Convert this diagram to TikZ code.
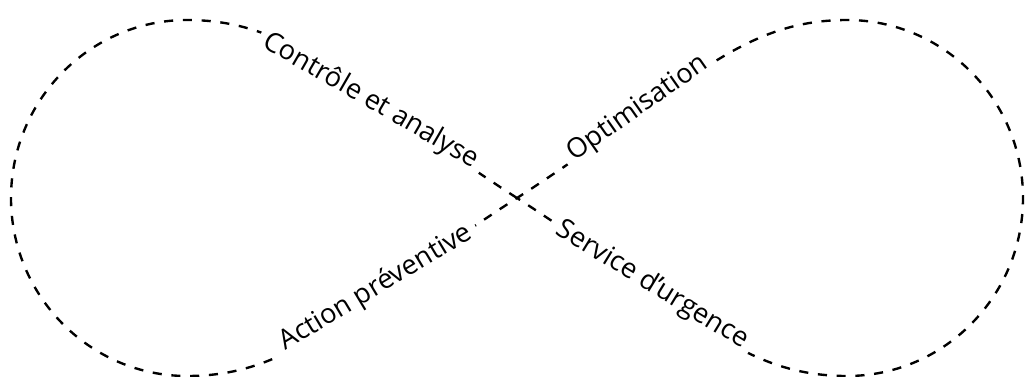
\documentclass[tikz,border=0pt]{standalone}
\usepackage{fontspec}
\setmainfont{Open Sans}
\begin{document}
\begin{tikzpicture}[x=0.02cm,y=-0.02cm,
  loopline/.style={line width=1.35pt,dash pattern=on 5.2pt off 5.5pt,black},
  lbl/.style={fill=white,inner xsep=4pt,inner ysep=1.5pt,font=\fontsize{15.5pt}{18pt}\selectfont}]
\useasboundingbox (0,0) rectangle (1025,376);
\coordinate (C) at (517,198);
\coordinate (TL) at (187,20);
\coordinate (L) at (11,198);
\coordinate (BL) at (187,376);
\coordinate (TR) at (847,20);
\coordinate (R) at (1023,198);
\coordinate (BR) at (847,376);
\draw[loopline] (C) .. controls (349,90) and (297,20) .. (TL)
  .. controls (90,20) and (11,100) .. (L)
  .. controls (11,296) and (90,376) .. (BL)
  .. controls (297,376) and (349,306) .. (C)
  .. controls (685,90) and (737,20) .. (TR)
  .. controls (944,20) and (1023,100) .. (R)
  .. controls (1023,296) and (944,376) .. (BR)
  .. controls (737,376) and (685,306) .. (C);
\node[lbl,rotate=-30] (ca) at (371,101) {Contrôle et analyse};
\node[lbl,rotate=35] (op) at (638,109) {Optimisation};
\node[lbl,rotate=31] (ap) at (376,288) {Action préventive};
\node[lbl,rotate=-31.5] (su) at (652,285) {Service d’urgence};
\end{tikzpicture}
\end{document}
